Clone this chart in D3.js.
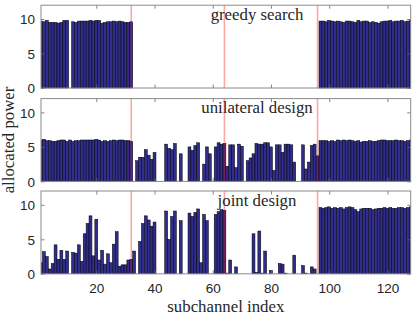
<!DOCTYPE html>
<html><head><meta charset="utf-8">
<script src="https://cdn.jsdelivr.net/npm/d3@7"></script>
<style>body{margin:0;background:#fff}text{fill:#262626}</style>
</head><body><svg id="c" width="415" height="317"></svg>
<script>
const subchannels = d3.range(1, 129);
const greedy = [9.7,9.6,9.8,9.5,9.5,9.5,9.4,9.5,9.8,9.8,0,9.6,9.5,9.7,9.7,9.7,9.7,9.8,9.7,9.8,9.8,9.4,9.5,9.6,9.6,9.7,9.6,9.7,9.6,9.5,9.5,9.6,
  0,0,0,0,0,0,0,0,0,0,0,0,0,0,0,0,0,0,0,0,0,0,0,0,0,0,0,0,0,0,0,0,
  0,0,0,0,0,0,0,0,0,0,0,0,0,0,0,0,0,0,0,0,0,0,0,0,0,0,0,0,0,0,0,0,
  9.7,9.7,9.6,9.8,9.7,9.6,9.7,9.6,9.5,9.7,9.7,9.6,9.5,9.8,9.6,9.7,9.7,9.5,9.6,9.5,9.4,9.6,9.7,9.7,9.8,9.6,9.7,9.7,9.8,9.6,9.7,9.8];
const unilateral = [6.0,6.1,5.9,5.9,5.8,5.8,5.9,6.0,6.0,5.8,6.0,5.8,5.9,5.9,6.0,6.0,6.0,6.0,6.0,6.1,6.0,5.8,5.9,5.8,5.9,6.0,5.9,6.0,6.0,5.9,5.9,5.8,
  0,3.0,3.5,3.5,4.6,3.8,3.2,4.2,0,0,0,5.4,4.8,4.6,5.5,0,4.0,0,0,5.0,4.5,5.2,5.6,0,2.5,5.0,4.0,0,5.0,5.6,5.4,5.5,
  2.2,5.3,5.3,2.0,5.4,5.1,0,3.0,3.4,4.0,5.5,5.4,5.4,5.6,5.6,5.0,1.6,5.3,5.3,4.2,5.4,5.4,5.3,2.8,0,0,5.3,1.8,2.8,5.2,5.4,3.7,
  5.9,5.9,5.9,5.8,5.9,5.8,6.0,5.9,6.0,5.9,6.0,5.9,5.8,5.9,5.7,5.8,5.8,5.9,5.8,5.8,5.9,6.0,6.0,5.9,5.9,5.9,6.0,5.9,5.9,5.8,5.9,6.0];
const joint = [1.6,3.2,2.5,0.7,1.5,4.2,2.1,3.4,2.1,3.3,0,3.1,3.0,4.2,1.8,5.8,7.3,8.4,2.6,7.9,2.0,3.4,1.4,2.9,1.6,4.3,6.1,1.1,1.3,1.3,2.0,2.1,
  3.3,0,4.7,7.3,8.4,7.8,6.9,7.5,0,0,0,9.1,5.0,8.3,9.1,0,7.7,0,0,8.8,8.3,8.9,9.4,1.6,8.6,7.7,0,0,8.6,9.0,9.3,9.2,
  0.1,2.0,0,1.0,0,0,0,0,0,5.8,0.2,6.2,0.1,3.3,0,0.5,0,0,1.5,1.4,0.1,0,0,2.7,0,0,1.2,0.1,0,1.0,0.7,0,
  9.6,9.5,9.6,9.7,9.5,9.6,9.5,9.6,9.4,9.6,9.7,9.6,9.3,9.0,9.4,9.5,9.5,9.5,9.3,9.4,9.5,9.5,9.6,9.5,9.6,9.5,9.5,9.6,9.6,9.5,9.6,9.7];
const seriesList = [greedy, unilateral, joint];
const titles = ["greedy search", "unilateral design", "joint design"];
const xTicks = [20, 40, 60, 80, 100, 120];
const yTicks = [0, 5, 10];
const redLines = [32, 64, 96];
const xLabel = "subchannel index";
const yLabel = "allocated power";

const svg = d3.select("#c");
const L = 41, R = 410.7;
const tops = [5.2, 98.6, 191];
const H = 82.8;
const x = d3.scaleLinear().domain([1, 128]).range([L, R]);
const bw = x(2) - x(1);
const sans = "'Liberation Sans', Arial, sans-serif";
const serif = "'Liberation Serif', 'DejaVu Serif', serif";

svg.append("clipPath").attr("id", "clipx").append("rect")
  .attr("x", L).attr("y", 0).attr("width", R - L).attr("height", 317);

seriesList.forEach((vals, i) => {
  const top = tops[i];
  const y = d3.scaleLinear().domain([0, 12]).range([top + H, top]);
  const g = svg.append("g");
  const bars = g.append("g").attr("clip-path", "url(#clipx)");
  bars.selectAll("rect").data(vals).join("rect")
    .attr("x", (d, j) => x(subchannels[j]) - bw / 2)
    .attr("y", d => y(d))
    .attr("width", bw)
    .attr("height", d => y(0) - y(d))
    .attr("fill", "#302d8c")
    .attr("stroke", "#000")
    .attr("stroke-width", 0.5);
  g.selectAll("line.red").data(redLines).join("line")
    .attr("class", "red")
    .attr("x1", d => x(d)).attr("x2", d => x(d))
    .attr("y1", top).attr("y2", top + H)
    .attr("stroke", "#ff0000").attr("stroke-opacity", 0.35).attr("stroke-width", 1.6);
  const ax = g.append("g");
  const bottom = d3.axisBottom(x).tickValues(xTicks).tickSizeInner(-3.5).tickSizeOuter(0).tickFormat(i === 2 ? d3.format("d") : "");
  const topAx = d3.axisTop(x).tickValues(xTicks).tickSizeInner(-3.5).tickSizeOuter(0).tickFormat("");
  const left = d3.axisLeft(y).tickValues(yTicks).tickSizeInner(-3.5).tickSizeOuter(0).tickFormat(d3.format("d"));
  const right = d3.axisRight(y).tickValues(yTicks).tickSizeInner(-3.5).tickSizeOuter(0).tickFormat("");
  const ab = ax.append("g").attr("transform", `translate(0,${top + H})`).call(bottom);
  ax.append("g").attr("transform", `translate(0,${top})`).call(topAx);
  const al = ax.append("g").attr("transform", `translate(${L},0)`).call(left);
  ax.append("g").attr("transform", `translate(${R},0)`).call(right);
  ax.selectAll(".domain").remove();
  ax.selectAll(".tick line").attr("stroke", "#666").attr("stroke-width", 0.8);
  ax.selectAll(".tick text").attr("font-family", sans).attr("font-size", 13.5).attr("fill", "#262626");
  al.selectAll(".tick text").attr("x", -6).attr("dy", "0.36em");
  ab.selectAll(".tick text").attr("y", 10);
  g.append("rect").attr("x", L).attr("y", top).attr("width", R - L).attr("height", H)
    .attr("fill", "none").attr("stroke", "#8a8a8a").attr("stroke-width", 1);
  g.append("text").attr("x", 257).attr("y", top + 14.5).attr("text-anchor", "middle")
    .attr("font-family", serif).attr("font-size", 16.8).text(titles[i]);
});

svg.append("text").attr("x", (L + R) / 2).attr("y", 312).attr("text-anchor", "middle")
  .attr("font-family", serif).attr("font-size", 16.8).text(xLabel);
svg.append("text").attr("transform", `translate(14,${tops[1] + H / 2}) rotate(-90)`)
  .attr("text-anchor", "middle").attr("font-family", serif).attr("font-size", 16.8).text(yLabel);
</script>
</body></html>
